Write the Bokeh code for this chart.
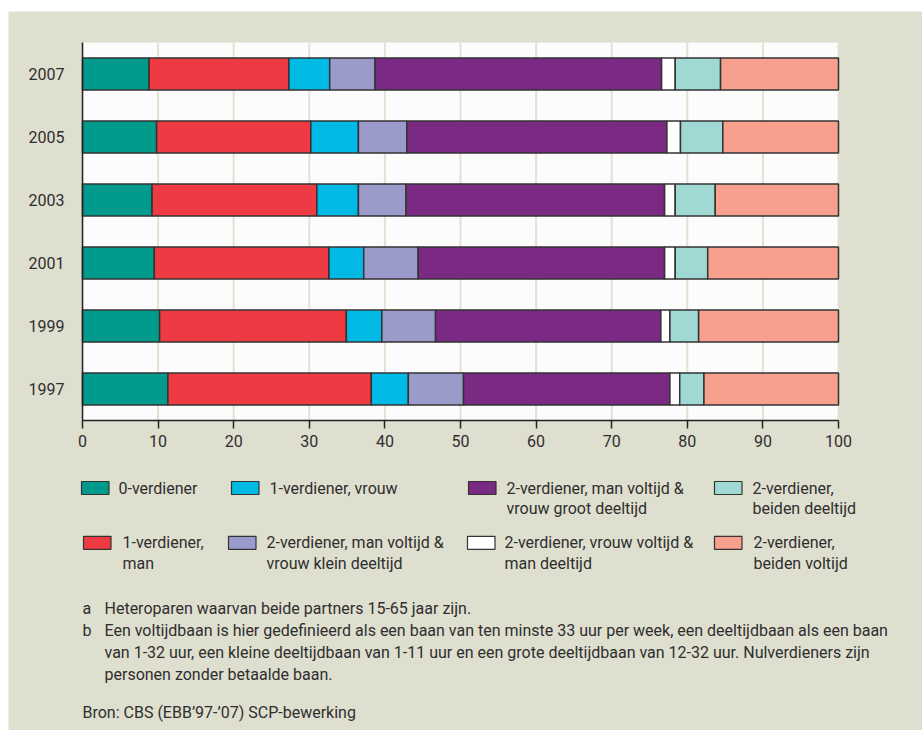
from bokeh.plotting import figure
from bokeh.models import Range1d, FixedTicker, ColumnDataSource, Spacer, LinearAxis
from bokeh.layouts import column, row
from bokeh.core.properties import value
from bokeh.embed import file_html
from bokeh.resources import INLINE

# ---------------- data ----------------
years = ["1997", "1999", "2001", "2003", "2005", "2007"]

series_names = [
    "0-verdiener",
    "1-verdiener, man",
    "1-verdiener, vrouw",
    "2-verdiener, man voltijd & vrouw klein deeltijd",
    "2-verdiener, man voltijd & vrouw groot deeltijd",
    "2-verdiener, vrouw voltijd & man deeltijd",
    "2-verdiener, beiden deeltijd",
    "2-verdiener, beiden voltijd",
]

nul_verdiener = [11.3, 10.2, 9.5, 9.2, 9.8, 8.8]
een_man = [26.9, 24.7, 23.1, 21.8, 20.4, 18.5]
een_vrouw = [4.9, 4.7, 4.6, 5.5, 6.3, 5.4]
twee_klein = [7.3, 7.1, 7.2, 6.3, 6.4, 6.0]
twee_groot = [27.3, 29.8, 32.6, 34.2, 34.4, 37.9]
twee_vrouw_vol = [1.3, 1.2, 1.4, 1.4, 1.8, 1.8]
twee_beiden_deel = [3.2, 3.8, 4.3, 5.3, 5.6, 6.0]
twee_beiden_vol = [17.8, 18.5, 17.3, 16.3, 15.3, 15.6]

x_ticks = [0, 10, 20, 30, 40, 50, 60, 70, 80, 90, 100]

legend_lines = [
    ["0-verdiener"],
    ["1-verdiener, vrouw"],
    ["2-verdiener, man voltijd &", "vrouw groot deeltijd"],
    ["2-verdiener,", "beiden deeltijd"],
    ["1-verdiener,", "man"],
    ["2-verdiener, man voltijd &", "vrouw klein deeltijd"],
    ["2-verdiener, vrouw voltijd &", "man deeltijd"],
    ["2-verdiener,", "beiden voltijd"],
]
legend_series = [0, 2, 4, 6, 1, 3, 5, 7]

footnote_marks = ["a", "b", "", ""]
footnote_lines = [
    "Heteroparen waarvan beide partners 15-65 jaar zijn.",
    "Een voltijdbaan is hier gedefinieerd als een baan van ten minste 33 uur per week, een deeltijdbaan als een baan",
    "van 1-32 uur, een kleine deeltijdbaan van 1-11 uur en een grote deeltijdbaan van 12-32 uur. Nulverdieners zijn",
    "personen zonder betaalde baan.",
]
source_text = "Bron: CBS (EBB\u201997-\u201907) SCP-bewerking"

# ---------------- style / layout ----------------
colors = ["#009B8D", "#EE3A43", "#00B9E4", "#9B9BCB", "#7A2A82", "#FFFFFF", "#A0D9D4", "#F6A08D"]
BEIGE = "#DFDFCF"
PLOT_BG = "#FCFCFC"
GRID = "#E2E2D2"
TEXT = "#2E2E2E"
FONT = "Roboto"

PAGE_L, PAGE_T, PAGE_R, PAGE_B = 8, 11, 922, 730      # beige panel in page pixels
FR_L, FR_R, FR_T, FR_B = 82, 838, 42, 420              # plot area in page pixels
W, H = PAGE_R - PAGE_L, PAGE_B - PAGE_T

ypos = list(range(1, len(years) + 1))                  # 1997 at bottom
y_lo, y_hi = 0.5, len(years) + 0.5
x_lo, x_hi = x_ticks[0], x_ticks[-1]

xs = (FR_R - FR_L) / (x_hi - x_lo)
ys = (FR_B - FR_T) / (y_hi - y_lo)
x_range = Range1d(x_lo - (FR_L - PAGE_L) / xs, x_hi + (PAGE_R - FR_R) / xs)
y_range = Range1d(y_lo - (PAGE_B - FR_B) / ys, y_hi + (FR_T - PAGE_T) / ys)

p = figure(width=W, height=H, x_range=x_range, y_range=y_range,
           x_axis_type=None, y_axis_type=None,
           output_backend="svg", toolbar_location=None, title=None,
           min_border=0, min_border_left=0, min_border_right=0,
           min_border_top=0, min_border_bottom=0)
p.extra_x_ranges = {"px": Range1d(PAGE_L, PAGE_R)}
p.extra_y_ranges = {"px": Range1d(PAGE_B, PAGE_T)}
p.background_fill_color = BEIGE
p.border_fill_color = BEIGE
p.outline_line_color = None
p.grid.visible = False

# plot area and grid lines
p.quad(left=[x_lo], right=[x_hi], bottom=[y_lo], top=[y_hi], fill_color=PLOT_BG, line_color=None)
p.segment(x0=x_ticks, y0=[y_lo] * len(x_ticks), x1=x_ticks, y1=[y_hi] * len(x_ticks),
          line_color=GRID, line_width=2)

# bars
keys = ["s%d" % i for i in range(8)]
data = dict(y=ypos, year=years)
for k, arr in zip(keys, [nul_verdiener, een_man, een_vrouw, twee_klein, twee_groot,
                         twee_vrouw_vol, twee_beiden_deel, twee_beiden_vol]):
    data[k] = arr
src = ColumnDataSource(data)
p.hbar_stack(keys, y="y", height=0.51, color=colors, source=src,
             line_color="#333333", line_width=1.5)

# axes
xaxis = LinearAxis(fixed_location=y_lo, bounds=(x_lo, x_hi), ticker=FixedTicker(ticks=x_ticks))
xaxis.axis_line_color = "#222222"
xaxis.axis_line_width = 1.5
xaxis.major_tick_line_color = "#222222"
xaxis.major_tick_line_width = 1.5
xaxis.major_tick_out = 8
xaxis.major_tick_in = 0
xaxis.minor_tick_line_color = None
xaxis.major_label_standoff = 6

yaxis = LinearAxis(fixed_location=x_lo, bounds=(y_lo, y_hi), ticker=FixedTicker(ticks=ypos),
                   major_label_overrides={yv: yr for yv, yr in zip(ypos, years)})
yaxis.axis_line_color = "#222222"
yaxis.axis_line_width = 1.5
yaxis.major_tick_line_color = None
yaxis.minor_tick_line_color = None
yaxis.major_label_standoff = 12

for ax in (xaxis, yaxis):
    ax.major_label_text_font = FONT
    ax.major_label_text_font_size = "16px"
    ax.major_label_text_color = TEXT
p.add_layout(xaxis, "below")
p.add_layout(yaxis, "left")

# ---------------- legend (page pixel coordinates) ----------------
sw_left = [81, 231, 468, 714, 83, 228, 467, 714]
tx_left = [118, 269, 506, 752, 122, 266, 504, 753]
row_y = [487.5, 487.5, 487.5, 487.5, 542.3, 542.3, 542.3, 542.3]
sw_w, sw_h, line_gap = 27.5, 13, 20.6

p.quad(left=sw_left, right=[v + sw_w for v in sw_left],
       top=[y - sw_h / 2 for y in row_y], bottom=[y + sw_h / 2 for y in row_y],
       fill_color=[colors[i] for i in legend_series], line_color="#333333", line_width=1.2,
       x_range_name="px", y_range_name="px")

lx, ly, lt = [], [], []
for i, lines in enumerate(legend_lines):
    for j, t in enumerate(lines):
        lx.append(tx_left[i])
        ly.append(row_y[i] + j * line_gap)
        lt.append(t)
txt = dict(text_font=value(FONT), text_font_size="16px", text_color=TEXT,
           text_baseline="middle", text_align="left", x_range_name="px", y_range_name="px")
p.text(x=lx, y=ly, text=lt, **txt)

# ---------------- footnotes ----------------
fy = [608, 630, 652, 674]
p.text(x=[82] * 4, y=fy, text=footnote_marks, **txt)
p.text(x=[104] * 4, y=fy, text=footnote_lines, **txt)
p.text(x=[82], y=[712], text=[source_text], **txt)

layout = column(Spacer(width=PAGE_R, height=PAGE_T),
                row(Spacer(width=PAGE_L, height=H), p))
open("out.html", "w").write(file_html(layout, INLINE))
